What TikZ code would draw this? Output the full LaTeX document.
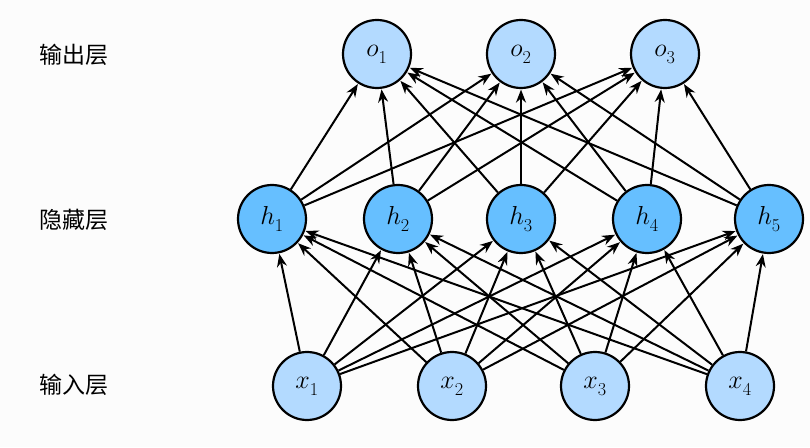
\RequirePackage{fix-cm}
\documentclass[tikz,border=0pt]{standalone}
\usepackage{fontspec}
\newfontfamily\cjk{Noto Sans CJK SC}
\usepackage{xcolor,tikz}
\usetikzlibrary{arrows.meta}
\definecolor{lightnode}{RGB}{179,218,255}
\definecolor{darknode}{RGB}{102,191,255}
\definecolor{bgcol}{RGB}{252,252,252}
\newcommand{\unit}[2]{$#1_{\lower3pt\hbox{$\scriptstyle#2$}}$}
\tikzset{
  neuron/.style={circle,draw=black,line width=2.2pt,minimum size=68pt,inner sep=0pt,
    font=\fontsize{26}{30}\selectfont},
  layerlabel/.style={anchor=west,font=\cjk\fontsize{23}{27}\selectfont},
  link/.style={line width=2pt,-{Stealth[length=13pt,width=10pt]},shorten >=0.5pt}
}
\begin{document}
\begin{tikzpicture}[x=1pt,y=1pt]
\fill[bgcol] (0,0) rectangle (810,447);
\useasboundingbox (0,0) rectangle (810,447);
% layer names
\node[layerlabel] (lo) at (36,392) {输出层};
\node[layerlabel] (lh) at (36,227) {隐藏层};
\node[layerlabel] (li) at (36,62) {输入层};
% input layer
\foreach \i/\x in {1/307,2/452,3/595,4/740}
  \node[neuron,fill=lightnode] (x\i) at (\x,61) {\unit{x}{\i}};
% hidden layer
\foreach \i/\x in {1/272,2/398,3/521,4/647,5/769}
  \node[neuron,fill=darknode] (h\i) at (\x,228) {\unit{h}{\i}};
% output layer
\foreach \i/\x in {1/377,2/521,3/665}
  \node[neuron,fill=lightnode] (o\i) at (\x,393) {\unit{o}{\i}};
% connections
\foreach \i in {1,...,4}
  \foreach \j in {1,...,5}
    \draw[link] (x\i) -- (h\j);
\foreach \j in {1,...,5}
  \foreach \k in {1,2,3}
    \draw[link] (h\j) -- (o\k);
\end{tikzpicture}
\end{document}
